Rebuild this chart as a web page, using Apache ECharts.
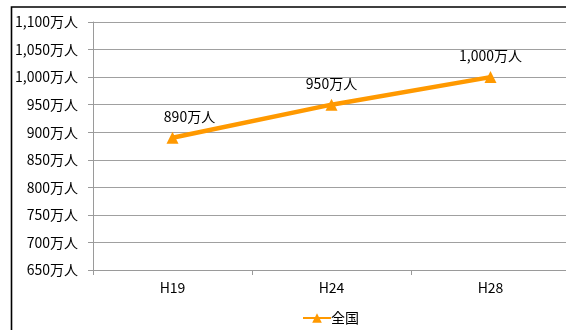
<!DOCTYPE html>
<html>
<head>
<meta charset="utf-8">
<script src="https://cdn.jsdelivr.net/npm/echarts@6/dist/echarts.min.js"></script>
<style>
  html, body { margin: 0; padding: 0; background: #fff; }
  #main { width: 566px; height: 330px; }
</style>
</head>
<body>
<div id="main"></div>
<script>
// data
const categories = ["H19", "H24", "H28"];
const seriesName = "全国";
const values = [890, 950, 1000];
const yMin = 650, yMax = 1100, yStep = 50;

const fmt = (v) => v.toLocaleString("en-US") + "万人";
const font = "'Noto Sans CJK JP', 'Noto Sans', sans-serif";

const myChart = echarts.init(document.getElementById("main"));
const option = {
  backgroundColor: "#ffffff",
  animation: false,
  textStyle: { fontFamily: font },
  graphic: [
    {
      type: "rect",
      shape: { x: 11.5, y: 7, width: 700, height: 500 },
      style: { fill: "none", stroke: "#000", lineWidth: 1.6 },
      z: 100
    }
  ],
  grid: { left: 93, width: 477, top: 22, height: 248, containLabel: false, outerBoundsMode: "none" },
  legend: {
    data: [seriesName],
    left: 297,
    top: 306,
    itemWidth: 28,
    itemHeight: 12,
    textStyle: { fontSize: 14, color: "#000", fontFamily: font, padding: [0, 0, 0, -5] }
  },
  xAxis: {
    type: "category",
    data: categories,
    boundaryGap: true,
    axisLine: { lineStyle: { color: "#9a9a9a", width: 1 } },
    axisTick: { show: true, length: 5, inside: false, lineStyle: { color: "#9a9a9a" } },
    axisLabel: { color: "#000", fontSize: 14, margin: 11, fontFamily: font }
  },
  yAxis: {
    type: "value",
    min: yMin,
    max: yMax,
    interval: yStep,
    axisLine: { show: true, lineStyle: { color: "#9a9a9a", width: 1 } },
    axisTick: { show: true, length: 5, lineStyle: { color: "#9a9a9a" } },
    axisLabel: { color: "#000", fontSize: 14, margin: 15, fontFamily: font, formatter: fmt },
    splitLine: { show: true, lineStyle: { color: "#a0a0a0", width: 1 } }
  },
  series: [
    {
      name: seriesName,
      type: "line",
      data: values.map((v, i) => ({
        value: v,
        label: i === 0 ? { offset: [17, 0] } : {}
      })),
      symbol: "triangle",
      symbolSize: 12,
      lineStyle: { color: "#ff9900", width: 4.5 },
      itemStyle: { color: "#ff9900" },
      label: {
        show: true,
        position: "top",
        distance: 8,
        color: "#000",
        fontSize: 14,
        fontFamily: font,
        formatter: (p) => fmt(p.value)
      }
    }
  ]
};
option && myChart.setOption(option);
</script>
</body>
</html>
